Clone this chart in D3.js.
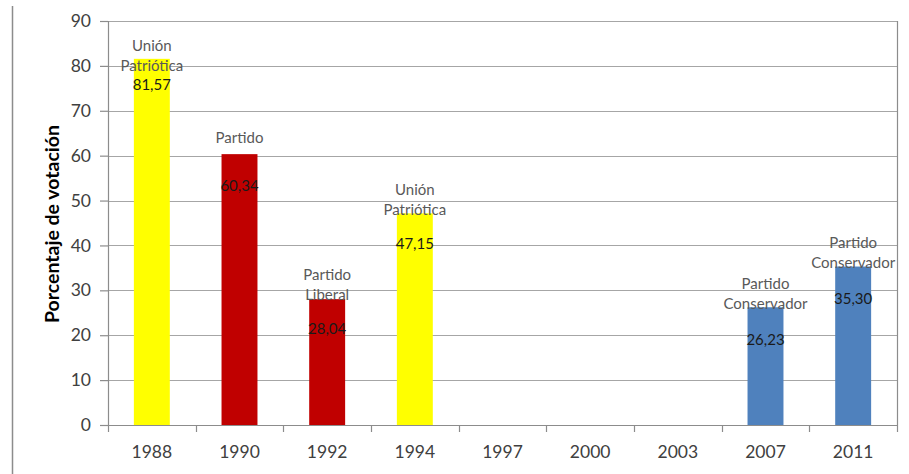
<!DOCTYPE html>
<html>
<head>
<meta charset="utf-8">
<script src="https://cdn.jsdelivr.net/npm/d3@7"></script>
<style>
  body { margin: 0; background: #fff; }
  text { font-family: Lato, "Open Sans", sans-serif; }
</style>
</head>
<body>
<div class="chart"></div>
<script>
// data
const years = ["1988", "1990", "1992", "1994", "1997", "2000", "2003", "2007", "2011"];
const votes = [81.57, 60.34, 28.04, 47.15, null, null, null, 26.23, 35.30];
const parties = [["Unión", "Patriótica"], ["Partido"], ["Partido", "Liberal"], ["Unión", "Patriótica"], [], [], [], ["Partido", "Conservador"], ["Partido", "Conservador"]];
const partyColor = ["#FFFF00", "#C00000", "#C00000", "#FFFF00", null, null, null, "#4F81BD", "#4F81BD"];
const yTicks = [0, 10, 20, 30, 40, 50, 60, 70, 80, 90];

// label nudges (px), to follow the original hand placement
const nameShift = [11, 0, 0, 0, 0, 0, 0, 0, 0];
const valShift = [-4, 2, 0, 0, 0, 0, 0, 2, 2];

const W = 909, H = 474;
const margin = {top: 21, left: 108, bottom: 49, right: 12};
const width = W - margin.left - margin.right;
const height = H - margin.top - margin.bottom;

const svg = d3.select('.chart').append('svg')
  .attr('width', W).attr('height', H);

// outer frame line on the left
svg.append('line')
  .attr('x1', 12.5).attr('x2', 12.5).attr('y1', 6).attr('y2', H)
  .attr('stroke', '#8c8c8c').attr('stroke-width', 1.5);

const g = svg.append('g')
  .attr('transform', 'translate(' + margin.left + ',' + margin.top + ')');

const xScale = d3.scaleBand().domain(years).range([0, width]).paddingInner(0.59).paddingOuter(0.295);
const yScale = d3.scaleLinear().domain([0, 90]).range([height, 0]);

// gridlines
g.append('g').selectAll('line').data(yTicks).join('line')
  .attr('x1', 0).attr('x2', width)
  .attr('y1', d => Math.round(yScale(d)) + 0.5).attr('y2', d => Math.round(yScale(d)) + 0.5)
  .attr('stroke', '#a6a6a6').attr('stroke-width', 1.2);

// right border
g.append('line')
  .attr('x1', width + 0.5).attr('x2', width + 0.5).attr('y1', 0).attr('y2', height)
  .attr('stroke', '#8c8c8c').attr('stroke-width', 1.2);

// y axis
const yAxis = d3.axisLeft(yScale).tickValues(yTicks).tickSize(8).tickPadding(9);
const yAxisG = g.append('g').call(yAxis);
yAxisG.select('.domain').attr('stroke', '#8c8c8c').attr('stroke-width', 1.2);
yAxisG.selectAll('.tick line').attr('stroke', '#8c8c8c').attr('stroke-width', 1.2);
yAxisG.selectAll('.tick text').attr('font-size', 17.5).attr('fill', '#404040')
  .attr('font-family', 'Lato, sans-serif');

// x axis with ticks between categories
const xAxisG = g.append('g').attr('transform', 'translate(0,' + height + ')');
xAxisG.append('line').attr('x1', 0).attr('x2', width).attr('y1', 0.5).attr('y2', 0.5)
  .attr('stroke', '#8c8c8c').attr('stroke-width', 1.2);
const step = xScale.step();
xAxisG.selectAll('.xt').data(d3.range(years.length + 1)).join('line')
  .attr('class', 'xt')
  .attr('x1', d => Math.round(d * step) + 0.5).attr('x2', d => Math.round(d * step) + 0.5)
  .attr('y1', 0).attr('y2', 7)
  .attr('stroke', '#8c8c8c').attr('stroke-width', 1.2);
xAxisG.selectAll('.xl').data(years).join('text')
  .attr('class', 'xl')
  .attr('x', d => xScale(d) + xScale.bandwidth() / 2)
  .attr('y', 33)
  .attr('text-anchor', 'middle')
  .attr('font-size', 17.5).attr('fill', '#404040')
  .text(d => d);

// bars
const rows = years.map((y, i) => ({year: y, v: votes[i], names: parties[i], color: partyColor[i], i: i}))
  .filter(d => d.v != null);

g.selectAll('.bar').data(rows).join('rect')
  .attr('class', 'bar')
  .attr('x', d => xScale(d.year))
  .attr('y', d => yScale(d.v))
  .attr('width', xScale.bandwidth())
  .attr('height', d => height - yScale(d.v))
  .attr('fill', d => d.color);

// party labels
rows.forEach(d => {
  const cx = xScale(d.year) + xScale.bandwidth() / 2;
  const top = yScale(d.v);
  const n = d.names.length;
  d.names.forEach((name, k) => {
    g.append('text')
      .attr('x', cx)
      .attr('y', top - 4 - (n - 1 - k) * 20 + nameShift[d.i] - 16 * (n === 1 ? 0.75 : 0))
      .attr('dy', '0.35em')
      .attr('text-anchor', 'middle')
      .attr('font-size', 15).attr('fill', '#595959')
      .text(name);
  });
  g.append('text')
    .attr('x', cx)
    .attr('y', top + 30 + valShift[d.i])
    .attr('dy', '0.35em')
    .attr('text-anchor', 'middle')
    .attr('font-size', 15).attr('fill', '#1a1a1a')
    .text(d3.format('.2f')(d.v).replace('.', ','));
});

// axis title
svg.append('text')
  .attr('transform', 'translate(52,224) rotate(-90)')
  .attr('dy', '0.35em')
  .attr('text-anchor', 'middle')
  .attr('font-size', 19.5).attr('font-weight', 'bold').attr('fill', '#000')
  .text('Porcentaje de votación');
</script>
</body>
</html>
